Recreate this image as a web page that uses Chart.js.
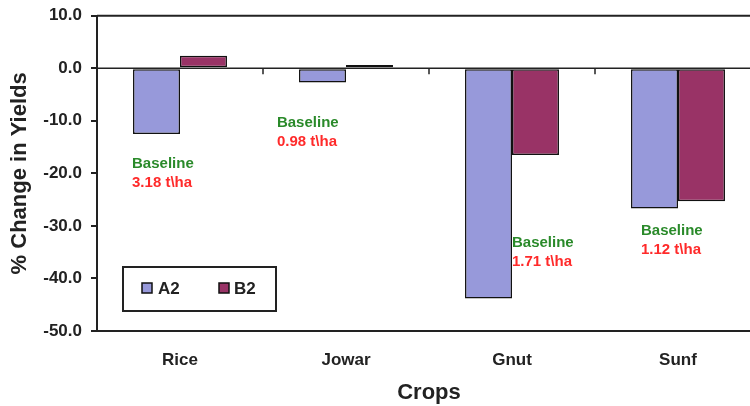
<!DOCTYPE html>
<html>
<head>
<meta charset="utf-8">
<script src="https://cdn.jsdelivr.net/npm/chart.js@4.4.1/dist/chart.umd.min.js"></script>
<style>
  html, body { margin: 0; padding: 0; background: #fff; overflow: hidden; }
  #wrap { width: 765px; height: 406px; }
</style>
</head>
<body>
<div id="wrap"><canvas id="yield-chart" width="765" height="406"></canvas></div>
<script>
// ── data ────────────────────────────────────────────────────────────────
var crops = ['Rice', 'Jowar', 'Gnut', 'Sunf'];
var seriesNames = ['A2', 'B2'];
var a2Change = [-12.5, -2.7, -43.8, -26.7];
var b2Change = [2.4, 0.6, -16.5, -25.3];
var baselineYields = ['3.18 t\\ha', '0.98 t\\ha', '1.71 t\\ha', '1.12 t\\ha'];
var yTicks = [10, 0, -10, -20, -30, -40, -50];

var FONT = '"Liberation Sans", Arial, sans-serif';
var INK = '#222';

// where each "Baseline" note sits: offset from category centre (in categories) and y value
var notePlace = [
  { dx: -0.289, y: -18.1 },
  { dx: -0.416, y: -10.3 },
  { dx: 0.0,    y: -33.3 },
  { dx: -0.223, y: -31.0 },
];

// frame lines: top border, zero line and category tick marks
var framePlugin = {
  id: 'frame',
  afterDatasetsDraw: function(chart) {
    var ctx = chart.ctx, a = chart.chartArea;
    var x = chart.scales.x, y = chart.scales.y;
    ctx.save();
    ctx.strokeStyle = INK;
    ctx.lineWidth = 2;
    ctx.beginPath();
    ctx.moveTo(a.left, a.top);
    ctx.lineTo(a.right, a.top);
    ctx.stroke();

    var y0 = y.getPixelForValue(0);
    ctx.lineWidth = 1.5;
    ctx.beginPath();
    ctx.moveTo(a.left, y0);
    ctx.lineTo(a.right, y0);
    for (var i = 1; i < crops.length; i++) {
      var px = x.getPixelForValue(i - 0.5);
      ctx.moveTo(px, y0);
      ctx.lineTo(px, y0 + 6);
    }
    ctx.stroke();
    ctx.restore();
  }
};

// baseline notes
var notesPlugin = {
  id: 'notes',
  afterDatasetsDraw: function(chart) {
    var ctx = chart.ctx;
    var x = chart.scales.x, y = chart.scales.y;
    ctx.save();
    ctx.font = 'bold 15px ' + FONT;
    ctx.textAlign = 'left';
    ctx.textBaseline = 'middle';
    for (var i = 0; i < crops.length; i++) {
      var px = x.getPixelForValue(i + notePlace[i].dx);
      var py = y.getPixelForValue(notePlace[i].y);
      ctx.fillStyle = '#2a8a2a';
      ctx.fillText('Baseline', px, py);
      ctx.fillStyle = '#ff2a2a';
      ctx.fillText(baselineYields[i], px, py + 19);
    }
    ctx.restore();
  }
};

// boxed legend inside the plot, like the original
var legendPlugin = {
  id: 'boxLegend',
  afterDraw: function(chart) {
    var ctx = chart.ctx;
    ctx.save();
    ctx.fillStyle = '#fff';
    ctx.fillRect(123, 267, 153, 44);
    ctx.strokeStyle = INK;
    ctx.lineWidth = 2;
    ctx.strokeRect(123, 267, 153, 44);

    var items = [{ bx: 142, tx: 158 }, { bx: 219, tx: 234 }];
    ctx.font = 'bold 17px ' + FONT;
    ctx.textBaseline = 'middle';
    ctx.textAlign = 'left';
    for (var i = 0; i < items.length; i++) {
      var ds = chart.data.datasets[i];
      ctx.fillStyle = ds.backgroundColor;
      ctx.fillRect(items[i].bx, 283, 10, 10);
      ctx.lineWidth = 1.5;
      ctx.strokeStyle = '#111';
      ctx.strokeRect(items[i].bx, 283, 10, 10);
      ctx.fillStyle = INK;
      ctx.fillText(ds.label, items[i].tx, 289);
    }
    ctx.restore();
  }
};

new Chart(document.getElementById('yield-chart'), {
  type: 'bar',
  data: {
    labels: crops,
    datasets: [
      {
        label: seriesNames[0],
        data: a2Change,
        backgroundColor: '#9799da',
        borderColor: '#111',
        borderWidth: 1.5,
        borderSkipped: false,
        categoryPercentage: 0.566,
        barPercentage: 1.0,
      },
      {
        label: seriesNames[1],
        data: b2Change,
        backgroundColor: '#993366',
        borderColor: '#111',
        borderWidth: 1.5,
        borderSkipped: false,
        categoryPercentage: 0.566,
        barPercentage: 1.0,
      },
    ],
  },
  options: {
    responsive: false,
    animation: false,
    devicePixelRatio: 1,
    layout: { padding: { top: 15.7, right: 4, left: 0, bottom: 0 } },
    plugins: {
      legend: { display: false },
      tooltip: { enabled: false },
    },
    scales: {
      x: {
        grid: { display: false },
        border: { display: true, color: INK, width: 2 },
        ticks: {
          color: INK,
          padding: 11,
          font: { family: FONT, size: 17, weight: 'bold' },
        },
        title: {
          display: true,
          text: 'Crops',
          color: INK,
          padding: { top: 0, bottom: 0 },
          font: { family: FONT, size: 22, weight: 'bold' },
        },
        afterFit: function(s) { s.height = 75; s.paddingLeft = 0; s.paddingRight = 0; },
      },
      y: {
        min: -50,
        max: 10,
        afterBuildTicks: function(s) {
          s.ticks = yTicks.map(function(v) { return { value: v }; });
        },
        grid: {
          display: true,
          drawOnChartArea: false,
          drawTicks: true,
          tickLength: 6,
          color: INK,
          lineWidth: 2,
        },
        border: { display: true, color: INK, width: 2 },
        ticks: {
          color: INK,
          padding: 9,
          font: { family: FONT, size: 17, weight: 'bold' },
          callback: function(v) { return Number(v).toFixed(1); },
        },
        title: {
          display: true,
          text: '% Change in Yields',
          color: INK,
          padding: { top: 7, bottom: 0 },
          font: { family: FONT, size: 22, weight: 'bold' },
        },
        afterFit: function(s) { s.width = 97; s.paddingTop = 0; s.paddingBottom = 0; },
      },
    },
  },
  plugins: [framePlugin, notesPlugin, legendPlugin],
});
</script>
</body>
</html>
